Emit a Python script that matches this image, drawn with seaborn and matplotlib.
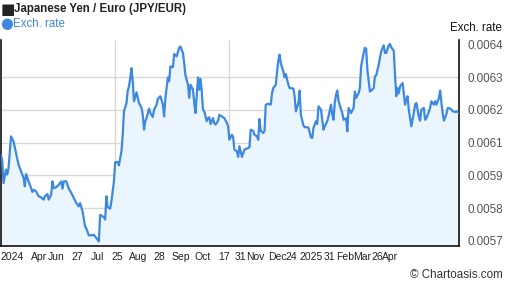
import numpy as np
import pandas as pd
import seaborn as sns
import matplotlib
matplotlib.use("Agg")
import matplotlib.pyplot as plt

# 1 year of JPY/EUR, days counted from the first point
start_date = "2024-04-24"
day_offsets = [
    0, 1, 2, 4, 5, 6, 8, 10, 12, 14, 16, 18, 19, 20, 22, 24, 25, 26, 28, 30,
    32, 34, 35, 37, 38, 40, 41, 42, 44, 46, 48, 49, 50, 52, 54, 56, 58, 60, 62, 63,
    65, 67, 68, 70, 72, 74, 75, 76, 78, 79, 80, 82, 83, 84, 85, 87, 88, 90, 91, 93,
    94, 96, 97, 98, 100, 101, 102, 103, 104, 105, 106, 108, 109, 110, 112, 113, 114, 115, 116, 118,
    119, 121, 122, 124, 125, 127, 129, 130, 131, 133, 134, 135, 137, 138, 140, 141, 142, 143, 145, 146,
    147, 149, 150, 151, 153, 154, 155, 157, 158, 159, 160, 161, 162, 164, 165, 166, 167, 169, 170, 171,
    173, 174, 176, 178, 180, 181, 182, 184, 185, 186, 188, 189, 190, 192, 194, 195, 198, 199, 201, 202,
    204, 205, 206, 207, 209, 210, 211, 213, 215, 216, 217, 219, 220, 221, 222, 223, 225, 226, 227, 229,
    230, 231, 233, 234, 235, 237, 238, 239, 241, 242, 245, 247, 248, 249, 251, 252, 253, 255, 257, 258,
    260, 261, 263, 264, 265, 266, 267, 268, 269, 271, 272, 273, 275, 276, 277, 279, 280, 281, 282, 283,
    285, 286, 287, 289, 290, 291, 292, 294, 295, 297, 298, 299, 301, 302, 303, 305, 306, 307, 309, 310,
    311, 313, 314, 315, 316, 317, 318, 320, 321, 322, 323, 324, 325, 326, 327, 329, 330, 331, 333, 334,
    335, 337, 338, 339, 341, 342, 343, 345, 346, 347, 349, 350, 351, 352, 353, 355, 356, 358, 359, 360,
    362, 363, 365,
]
rates = [
    0.006007, 0.005983, 0.005906, 0.005954, 0.005936, 0.005959, 0.006072, 0.006054, 0.006013, 0.005971,
    0.005948, 0.005924, 0.005894, 0.005938, 0.005912, 0.005888, 0.005874, 0.005882, 0.005876, 0.005859,
    0.005855, 0.005847, 0.005859, 0.005867, 0.005847, 0.005865, 0.005912, 0.005888, 0.005891, 0.005900,
    0.005912, 0.005886, 0.005912, 0.005912, 0.005886, 0.005871, 0.005853, 0.005835, 0.005823, 0.005835,
    0.005805, 0.005752, 0.005744, 0.005720, 0.005720, 0.005722, 0.005716, 0.005710, 0.005698, 0.005793,
    0.005790, 0.005785, 0.005776, 0.005859, 0.005820, 0.005815, 0.005841, 0.005912, 0.005980, 0.005981,
    0.005969, 0.006019, 0.006078, 0.006161, 0.006191, 0.006235, 0.006250, 0.006280, 0.006315, 0.006268,
    0.006197, 0.006229, 0.006209, 0.006191, 0.006173, 0.006149, 0.006096, 0.006126, 0.006137, 0.006171,
    0.006155, 0.006141, 0.006167, 0.006185, 0.006206, 0.006215, 0.006185, 0.006143, 0.006209, 0.006282,
    0.006268, 0.006321, 0.006318, 0.006365, 0.006357, 0.006372, 0.006387, 0.006392, 0.006369, 0.006333,
    0.006289, 0.006256, 0.006209, 0.006256, 0.006238, 0.006191, 0.006155, 0.006282, 0.006238, 0.006277,
    0.006232, 0.006167, 0.006161, 0.006126, 0.006137, 0.006140, 0.006116, 0.006137, 0.006118, 0.006114,
    0.006128, 0.006149, 0.006143, 0.006137, 0.006120, 0.006108, 0.006060, 0.006078, 0.006069, 0.006025,
    0.006019, 0.005999, 0.006037, 0.005999, 0.006025, 0.006027, 0.006033, 0.006096, 0.006092, 0.006078,
    0.006072, 0.006060, 0.006134, 0.006092, 0.006084, 0.006092, 0.006185, 0.006188, 0.006185, 0.006226,
    0.006244, 0.006256, 0.006303, 0.006341, 0.006363, 0.006333, 0.006303, 0.006282, 0.006294, 0.006256,
    0.006244, 0.006244, 0.006242, 0.006215, 0.006161, 0.006191, 0.006235, 0.006149, 0.006111, 0.006105,
    0.006104, 0.006069, 0.006066, 0.006102, 0.006126, 0.006116, 0.006179, 0.006167, 0.006096, 0.006108,
    0.006126, 0.006143, 0.006185, 0.006149, 0.006131, 0.006191, 0.006220, 0.006235, 0.006199, 0.006167,
    0.006155, 0.006131, 0.006137, 0.006090, 0.006173, 0.006155, 0.006164, 0.006173, 0.006232, 0.006209,
    0.006226, 0.006244, 0.006321, 0.006369, 0.006387, 0.006384, 0.006309, 0.006232, 0.006235, 0.006244,
    0.006286, 0.006289, 0.006327, 0.006351, 0.006375, 0.006396, 0.006369, 0.006369, 0.006396, 0.006401,
    0.006389, 0.006377, 0.006292, 0.006215, 0.006244, 0.006226, 0.006250, 0.006262, 0.006226, 0.006185,
    0.006203, 0.006215, 0.006167, 0.006137, 0.006108, 0.006155, 0.006185, 0.006191, 0.006143, 0.006128,
    0.006167, 0.006173, 0.006131, 0.006137, 0.006159, 0.006175, 0.006197, 0.006185, 0.006197, 0.006185,
    0.006209, 0.006235, 0.006191, 0.006155, 0.006128, 0.006152, 0.006173, 0.006171, 0.006167, 0.006161,
    0.006159, 0.006161, 0.006155,
]

# x labels as they appear on the chart (positions in days from start)
tick_days = [9, 30, 44, 61, 77, 93, 109, 126, 143, 161, 178, 191, 203, 220, 231, 247, 262, 274, 288, 300, 310]
tick_labels = ["2024", "Apr", "Jun", "27", "Jul", "25", "Aug", "28", "Sep", "Oct", "17",
               "31", "Nov", "Dec", "24", "2025", "31", "Feb", "Mar", "26", "Apr"]
grid_dates = ["2024-07-24", "2024-10-23", "2025-01-23"]
y_ticks = [0.0057, 0.0058167, 0.0059333, 0.00605, 0.0061667, 0.0062833, 0.0064]
y_tick_labels = ["0.0057", "0.0058", "0.0059", "0.0061", "0.0062", "0.0063", "0.0064"]

line_color = "#3d88e0"
fill_color = "#ebf5fe"

start = pd.Timestamp(start_date)
df = pd.DataFrame({
    "date": start + pd.to_timedelta(day_offsets, unit="D"),
    "rate": rates,
})

sns.set_theme(style="white")
plt.rcParams["font.family"] = ["Liberation Sans", "DejaVu Sans"]

fig = plt.figure(figsize=(5.07, 2.88), dpi=100)
ax = fig.add_axes([1 / 507, 1 - 246 / 288, 458 / 507, 206 / 288])

ax.set_ylim(0.005682, 0.006415)
ax.set_xlim(df["date"].iloc[0], df["date"].iloc[-1])

ax.fill_between(df["date"], df["rate"], 0.005682, color=fill_color, lw=0, zorder=1)
sns.lineplot(data=df, x="date", y="rate", ax=ax, color=line_color, linewidth=1.6, zorder=3)

# y axis on the right
ax.yaxis.tick_right()
ax.set_yticks(y_ticks)
ax.set_yticklabels(y_tick_labels)
ax.tick_params(axis="y", length=0, pad=6, labelsize=8.4, labelcolor="#555555")

ax.set_xticks([start + pd.Timedelta(days=d) for d in tick_days])
ax.set_xticklabels(tick_labels)
ax.tick_params(axis="x", length=0, pad=4, labelsize=7.5, labelcolor="#222222")
ax.set_xticks(pd.to_datetime(grid_dates), minor=True)
ax.tick_params(axis="x", which="minor", length=0)

ax.grid(False)
ax.yaxis.grid(True, color="#d9d9d9", linewidth=1)
ax.xaxis.grid(True, which="minor", color="#d9d9d9", linewidth=1)
gl = ax.yaxis.get_gridlines()
gl[0].set_visible(False)
gl[-1].set_visible(False)
ax.set_axisbelow(True)

ax.set_xlabel("")
ax.set_ylabel("")
for side in ["left", "bottom", "right"]:
    ax.spines[side].set_color("#111111")
    ax.spines[side].set_linewidth(1.2)
ax.spines["top"].set_visible(False)

W, H = 507, 288
fig.text(1 / W, 1 - 9 / H, "■", fontsize=11, color="#222222", va="center", ha="left",
         family=["DejaVu Sans"])
fig.text(14 / W, 1 - 9 / H, "Japanese Yen / Euro (JPY/EUR)", fontsize=8.3,
         fontweight="bold", color="#222222", va="center", ha="left")
fig.text(0 / W, 1 - 24 / H, "●", fontsize=10.5, color=line_color, va="center", ha="left",
         family=["DejaVu Sans"])
fig.text(13 / W, 1 - 24 / H, "Exch. rate", fontsize=8.3, color=line_color,
         va="center", ha="left")
fig.text(502 / W, 1 - 28 / H, "Exch. rate", fontsize=8.3, color="#111111",
         va="center", ha="right")
fig.text(503 / W, 1 - 275 / H, "© Chartoasis.com", fontsize=8.4, color="#333333",
         va="center", ha="right")

fig.savefig("out.png", dpi=100)
